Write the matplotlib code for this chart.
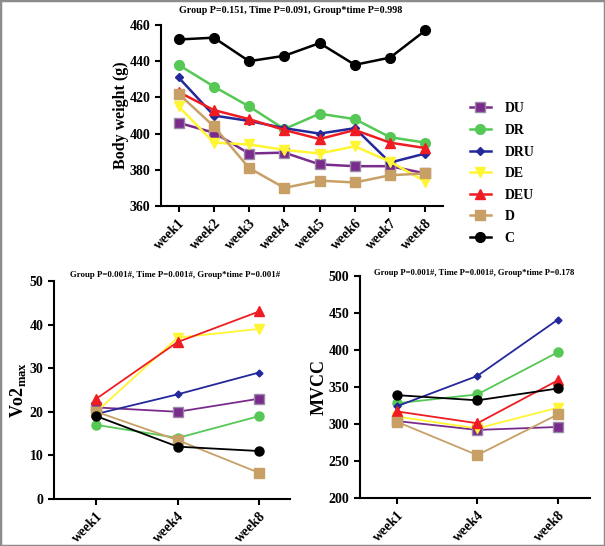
import matplotlib.pyplot as plt
from matplotlib.patches import Rectangle

plt.rcParams['font.family'] = ['Liberation Serif', 'DejaVu Serif']
plt.rcParams['font.weight'] = 'bold'
plt.rcParams['mathtext.fontset'] = 'custom'
plt.rcParams['mathtext.rm'] = 'Liberation Serif:bold'
plt.rcParams['mathtext.bf'] = 'Liberation Serif:bold'

groups = ['DU', 'DR', 'DRU', 'DE', 'DEU', 'D', 'C']
weeks_all = ['week1', 'week2', 'week3', 'week4', 'week5', 'week6', 'week7', 'week8']
weeks_sub = ['week1', 'week4', 'week8']

body_weight = {
    'DU':  [406, 400.5, 389, 389.5, 383, 382, 382, 378],
    'DR':  [438, 426, 415, 402.5, 411, 408, 398, 395],
    'DRU': [431, 410, 407, 403, 400, 403, 384, 389],
    'DE':  [415, 395, 394, 391, 389, 393, 384.5, 373.5],
    'DEU': [423, 413, 408, 402, 397, 402, 395, 392],
    'D':   [422, 404, 381, 370, 374, 373, 377, 378],
    'C':   [452, 453, 440, 443, 450, 438, 442, 457],
}

vo2max = {
    'DU':  [21, 20, 23],
    'DR':  [17, 14, 19],
    'DRU': [19.5, 24, 29],
    'DE':  [20, 37, 39],
    'DEU': [23, 36, 43],
    'D':   [20, 13.5, 6],
    'C':   [19, 12, 11],
}

mvcc = {
    'DU':  [304, 292, 296],
    'DR':  [328, 340, 397],
    'DRU': [324, 365, 441],
    'DE':  [310, 294, 322],
    'DEU': [317, 301, 359],
    'D':   [303, 258, 313],
    'C':   [339, 332, 348],
}

styles = {
    'DU':  dict(color='#7A2C8C', marker='s', mec='#9C8AA6', ms=7),
    'DR':  dict(color='#55C855', marker='o', mec='#55C855', ms=7),
    'DRU': dict(color='#23289A', marker='D', mec='#23289A', ms=4),
    'DE':  dict(color='#FFF533', marker='v', mec='#FFF533', ms=7),
    'DEU': dict(color='#EE1D23', marker='^', mec='#EE1D23', ms=7),
    'D':   dict(color='#C8A066', marker='s', mec='#C8A066', ms=7),
    'C':   dict(color='#000000', marker='o', mec='#000000', ms=7),
}


def style_axes(ax, fs):
    for s in ['top', 'right']:
        ax.spines[s].set_visible(False)
    for s in ['left', 'bottom']:
        ax.spines[s].set_linewidth(1.5)
    ax.tick_params(axis='both', direction='out', length=4, width=1.5, labelsize=fs)
    for lab in ax.get_yticklabels():
        lab.set_fontweight('bold')


fig = plt.figure(figsize=(6.05, 5.46), dpi=100)

# top panel: body weight
ax1 = fig.add_axes([0.2661, 0.6227, 0.4661, 0.3315])
x1 = list(range(len(weeks_all)))
for g in groups:
    st = styles[g]
    ax1.plot(x1, body_weight[g], color=st['color'], marker=st['marker'], mec=st['mec'],
             ms=st['ms'], lw=1.8, label=g, clip_on=False)
ax1.set_xlim(-0.5, 7.5)
ax1.set_ylim(360, 460)
ax1.set_yticks([360, 380, 400, 420, 440, 460])
ax1.set_xticks(x1)
ax1.set_xticklabels(weeks_all, rotation=45, ha='right', rotation_mode='anchor', fontsize=9.5)
style_axes(ax1, 10)
ax1.set_ylabel('Body weight (g)', fontsize=11.5, fontweight='bold')
ax1.yaxis.set_label_coords(-0.115, 0.5)
fig.text(0.48, 0.981, 'Group P=0.151, Time P=0.091, Group*time P=0.998', ha='center', va='center',
         fontsize=7.2, fontweight='bold')
ax1.legend(loc='upper left', bbox_to_anchor=(1.096, 0.573), frameon=False, fontsize=10,
           handlelength=1.5, labelspacing=0.62, handletextpad=1.0, borderaxespad=0, borderpad=0)

# bottom left: Vo2max
ax2 = fig.add_axes([0.0893, 0.0861, 0.39, 0.3993])
x2 = list(range(len(weeks_sub)))
for g in groups:
    st = styles[g]
    ax2.plot(x2, vo2max[g], color=st['color'], marker=st['marker'], mec=st['mec'],
             ms=st['ms'] - 0.5, lw=1.3, clip_on=False)
ax2.set_xlim(-0.52, 2.38)
ax2.set_ylim(0, 50)
ax2.set_yticks([0, 10, 20, 30, 40, 50])
ax2.set_xticks(x2)
ax2.set_xticklabels(weeks_sub, rotation=45, ha='right', rotation_mode='anchor', fontsize=9)
style_axes(ax2, 10)
ax2.set_ylabel(r'Vo2$_{\mathregular{max}}$', fontsize=13, fontweight='bold')
ax2.yaxis.set_label_coords(-0.11, 0.5)
fig.text(0.289, 0.496, 'Group P=0.001#, Time P=0.001#, Group*time P=0.001#', ha='center', va='center',
         fontsize=6.3, fontweight='bold')

# bottom right: MVCC
ax3 = fig.add_axes([0.595, 0.0879, 0.3802, 0.4066])
for g in groups:
    st = styles[g]
    ax3.plot(x2, mvcc[g], color=st['color'], marker=st['marker'], mec=st['mec'],
             ms=st['ms'] - 0.5, lw=1.3, clip_on=False)
ax3.set_xlim(-0.46, 2.4)
ax3.set_ylim(200, 500)
ax3.set_yticks([200, 250, 300, 350, 400, 450, 500])
ax3.set_xticks(x2)
ax3.set_xticklabels(weeks_sub, rotation=45, ha='right', rotation_mode='anchor', fontsize=9)
style_axes(ax3, 10)
ax3.set_ylabel('MVCC', fontsize=13, fontweight='bold')
ax3.yaxis.set_label_coords(-0.14, 0.5)
fig.text(0.784, 0.5, 'Group P=0.001#, Time P=0.001#, Group*time P=0.178', ha='center', va='center',
         fontsize=6.2, fontweight='bold')

fig.patches.append(Rectangle((0, 0), 1, 1, transform=fig.transFigure, fill=False,
                             edgecolor='#8c8c8c', lw=2.5))

fig.savefig('out.png', dpi=100)
